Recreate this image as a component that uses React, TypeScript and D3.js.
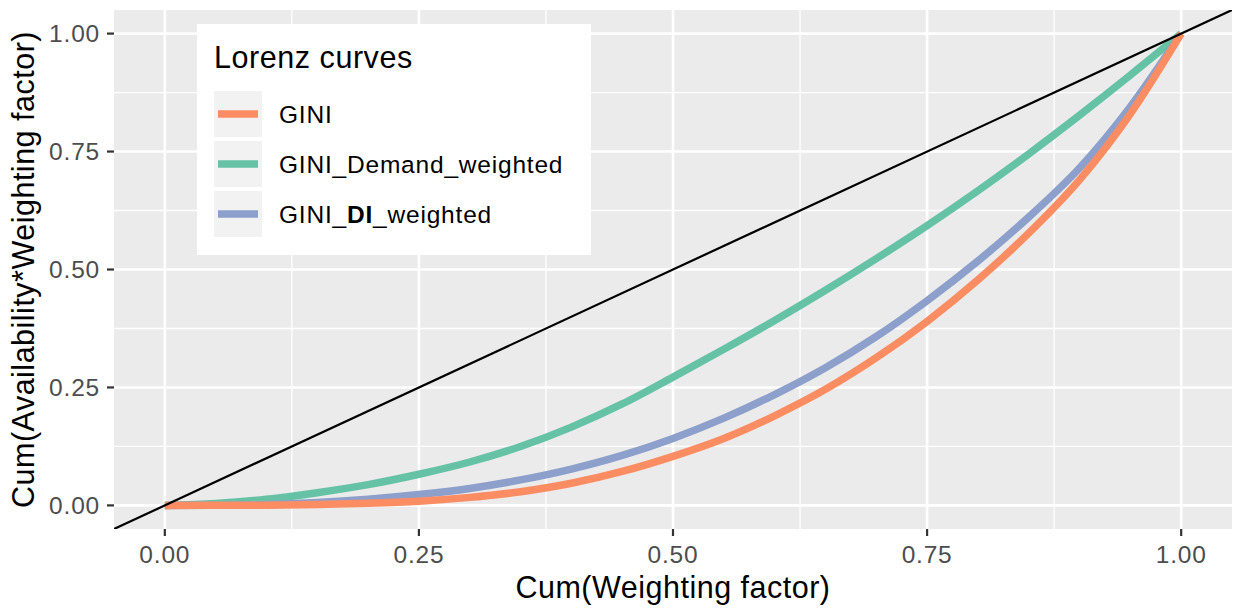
import * as d3 from "d3";

// cumulative weighting factor (x) and the three lorenz curves
const cumWeight = [0, 0.05, 0.1, 0.15, 0.2, 0.25, 0.3, 0.35, 0.4, 0.45, 0.5, 0.55, 0.6, 0.65, 0.7, 0.75, 0.8, 0.85, 0.9, 0.95, 1];
const gini = [0, 0.0001, 0.0006, 0.002, 0.0045, 0.009, 0.017, 0.029, 0.047, 0.072, 0.104, 0.142, 0.19, 0.246, 0.313, 0.39, 0.478, 0.577, 0.69, 0.83, 1];
const giniDemand = [0, 0.004, 0.013, 0.027, 0.044, 0.066, 0.092, 0.125, 0.166, 0.215, 0.272, 0.331, 0.392, 0.456, 0.523, 0.593, 0.667, 0.745, 0.827, 0.912, 1];
const giniDI = [0, 0.0003, 0.002, 0.006, 0.013, 0.023, 0.036, 0.054, 0.077, 0.106, 0.142, 0.185, 0.235, 0.292, 0.358, 0.434, 0.518, 0.611, 0.715, 0.845, 1];

const ticks = [0, 0.25, 0.5, 0.75, 1];
const minorTicks = [0.125, 0.375, 0.625, 0.875];
const tickLabels = ["0.00", "0.25", "0.50", "0.75", "1.00"];

const series = [
  { name: "GINI", values: gini, color: "#FC8D62" },
  { name: "GINI_Demand_weighted", values: giniDemand, color: "#66C2A5" },
  { name: "GINI_DI_weighted", values: giniDI, color: "#8DA0CB" },
];

const W = 1233;
const H = 608;

export default function App() {
  const x = d3.scaleLinear().domain([-0.05, 1.05]).range([114, 1232]);
  const y = d3.scaleLinear().domain([-0.05, 1.05]).range([529, 10]);
  const [x0, x1] = x.range();
  const [y0, y1] = y.range();

  const line = (vals: number[]) =>
    d3
      .line<number>()
      .x((_, i) => x(cumWeight[i]))
      .y((d) => y(d))
      .curve(d3.curveMonotoneX)(vals) || "";

  // draw order: green, blue, orange on top
  const drawOrder = [series[1], series[2], series[0]];

  const font = "'Liberation Sans', Arial, Helvetica, sans-serif";

  return (
    <svg width={W} height={H} style={{ position: "absolute", left: 0, top: 0 }} fontFamily={font}>
      <rect x={0} y={0} width={W} height={H} fill="#fff" />
      <defs>
        <clipPath id="panel">
          <rect x={x0} y={y1} width={x1 - x0} height={y0 - y1} />
        </clipPath>
      </defs>
      <rect x={x0} y={y1} width={x1 - x0} height={y0 - y1} fill="#EBEBEB" />
      {minorTicks.map((t) => (
        <g key={"m" + t}>
          <line x1={x(t)} x2={x(t)} y1={y1} y2={y0} stroke="#fff" strokeWidth={1.3} />
          <line x1={x0} x2={x1} y1={y(t)} y2={y(t)} stroke="#fff" strokeWidth={1.3} />
        </g>
      ))}
      {ticks.map((t) => (
        <g key={"M" + t}>
          <line x1={x(t)} x2={x(t)} y1={y1} y2={y0} stroke="#fff" strokeWidth={2.6} />
          <line x1={x0} x2={x1} y1={y(t)} y2={y(t)} stroke="#fff" strokeWidth={2.6} />
        </g>
      ))}

      <g clipPath="url(#panel)">
        {drawOrder.map((s) => (
          <path key={s.name} d={line(s.values)} fill="none" stroke={s.color} strokeWidth={7.5} strokeLinejoin="round" />
        ))}
        <line x1={x(-0.05)} y1={y(-0.05)} x2={x(1.05)} y2={y(1.05)} stroke="#000" strokeWidth={2.2} />
      </g>

      {/* x axis */}
      {ticks.map((t, i) => (
        <g key={"xt" + t}>
          <line x1={x(t)} x2={x(t)} y1={y0} y2={y0 + 7} stroke="#333" strokeWidth={2.2} />
          <text x={x(t)} y={y0 + 34} textAnchor="middle" fontSize={24.5} letterSpacing={0.8} fill="#4D4D4D">
            {tickLabels[i]}
          </text>
        </g>
      ))}
      {/* y axis */}
      {ticks.map((t, i) => (
        <g key={"yt" + t}>
          <line x1={x0 - 7} x2={x0} y1={y(t)} y2={y(t)} stroke="#333" strokeWidth={2.2} />
          <text x={x0 - 14} y={y(t) + 8.8} textAnchor="end" fontSize={24.5} letterSpacing={0.8} fill="#4D4D4D">
            {tickLabels[i]}
          </text>
        </g>
      ))}

      <text x={(x0 + x1) / 2} y={598} textAnchor="middle" fontSize={30.5} letterSpacing={0.5} fill="#000">
        Cum(Weighting factor)
      </text>
      <text
        transform={`translate(34,${(y0 + y1) / 2}) rotate(-90)`}
        textAnchor="middle"
        fontSize={30.5}
        letterSpacing={0.5}
        fill="#000"
      >
        Cum(Availability*Weighting factor)
      </text>

      {/* legend */}
      <g>
        <rect x={197} y={24} width={394} height={231} fill="#fff" />
        <text x={214} y={68} fontSize={30.5} letterSpacing={0.55} fill="#000">
          Lorenz curves
        </text>
        {series.map((s, i) => {
          const ky = 91 + i * 50;
          return (
            <g key={"lg" + s.name}>
              <rect x={214} y={ky} width={48} height={46} fill="#F2F2F2" />
              <line x1={218} x2={258} y1={ky + 23} y2={ky + 23} stroke={s.color} strokeWidth={7.5} />
              <text x={279} y={ky + 31.7} fontSize={24.5} letterSpacing={0.8} fill="#000">
                {s.name === "GINI_DI_weighted" ? (
                  <>
                    GINI_<tspan fontWeight="bold">DI</tspan>_weighted
                  </>
                ) : (
                  s.name
                )}
              </text>
            </g>
          );
        })}
      </g>
    </svg>
  );
}
